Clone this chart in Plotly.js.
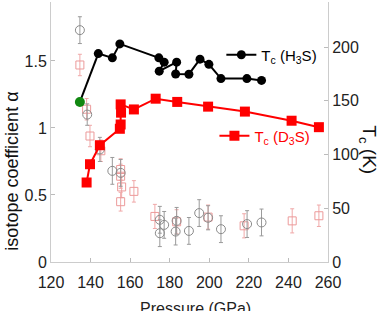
<!DOCTYPE html>
<html><head><meta charset="utf-8">
<script src="https://cdn.plot.ly/plotly-3.0.1.min.js"></script>
<style>body{margin:0;background:#fff}#c{width:382px;height:311px}</style>
</head><body><div id="c"></div>
<script>
// Tc of H3S (right axis, K)
const h3sP  = [143.9,151.0,154.8,174.5,177.2,174.7,183.5,183.0,189.7,195.3,199.8,205.9,219.0,226.4];
const h3sTc = [194,190,203,190,186,177.6,186,175,174.8,188.8,184,170.7,170.7,169];
// first point (green)
const greenP = [134.6], greenTc = [149];
// Tc of D3S (right axis, K)
const d3sP  = [138.0,139.7,144.7,154.8,155.2,155.4,155.2,161.9,172.9,183.8,199.4,218.0,241.6,255.4];
const d3sTc = [74,91,108.7,124,128,139,146.7,142,152,149,144.6,140,131.5,125.5];
// isotope coefficient alpha (grey circles, left axis)
const aCircP = [134.6,138.3,144.7,151.0,155.2,175.0,175.0,177.2,183.5,183.0,189.7,194.9,199.4,205.9,219.1,226.4];
const aCirc  = [1.73,1.10,0.84,0.68,0.665,0.315,0.215,0.277,0.307,0.227,0.232,0.365,0.33,0.245,0.283,0.295];
const aCircE = [0.10,0.08,0.09,0.10,0.10,0.10,0.10,0.10,0.10,0.10,0.10,0.10,0.09,0.10,0.10,0.10];
// isotope coefficient alpha (pink squares, left axis)
const aSqP = [134.6,138.0,139.7,145.2,155.2,155.2,155.7,155.2,161.9,172.5,183.5,199.4,217.6,241.9,255.4];
const aSq  = [1.47,1.14,0.94,0.83,0.69,0.64,0.56,0.45,0.527,0.34,0.30,0.335,0.27,0.307,0.345];
const aSqE = [0.08,0.08,0.08,0.08,0.08,0.09,0.08,0.07,0.08,0.09,0.09,0.09,0.09,0.09,0.08];
const xTicks = [120,140,160,180,200,220,240,260];
const yTicks = [0,0.5,1,1.5];
const yTickText = ['0','0.5','1','1.5'];
const y2Ticks = [0,50,100,150,200];

const font = 'Liberation Sans, Arial, sans-serif';
const traces = [
  {x:aSqP, y:aSq, type:'scatter', mode:'markers', yaxis:'y', showlegend:false,
   marker:{symbol:'square-open', size:8, color:'#ec9a9a', line:{width:1}},
   error_y:{type:'data', array:aSqE, color:'#f0a8a8', thickness:1, width:2}},
  {x:aCircP, y:aCirc, type:'scatter', mode:'markers', yaxis:'y', showlegend:false,
   marker:{symbol:'circle-open', size:9, color:'#8a8a8a', line:{width:1}},
   error_y:{type:'data', array:aCircE, color:'#9a9a9a', thickness:1, width:2}},
  {x:[greenP[0], h3sP[0]], y:[greenTc[0], h3sTc[0]], type:'scatter', mode:'lines',
   yaxis:'y2', showlegend:false, line:{color:'#000', width:2}},
  {x:h3sP, y:h3sTc, type:'scatter', mode:'lines+markers', yaxis:'y2', name:'T<sub>c</sub> (H<sub>3</sub>S)',
   line:{color:'#000', width:2}, marker:{symbol:'circle', size:9, color:'#000'}, legend:'legend'},
  {x:greenP, y:greenTc, type:'scatter', mode:'markers', yaxis:'y2', showlegend:false,
   marker:{symbol:'circle', size:10, color:'#118811'}},
  {x:d3sP, y:d3sTc, type:'scatter', mode:'lines+markers', yaxis:'y2', name:'T<sub>c</sub> (D<sub>3</sub>S)',
   line:{color:'#ff0000', width:2}, marker:{symbol:'square', size:10, color:'#ff0000'}, legend:'legend2'}
];
const layout = {
  width:382, height:311, margin:{l:51, r:54, t:2, b:49},
  paper_bgcolor:'#fff', plot_bgcolor:'#fff',
  font:{family:font, size:16, color:'#222'},
  xaxis:{range:[120,260], tickvals:xTicks, ticks:'inside', ticklen:4, tickcolor:'#bbb',
         showline:true, linecolor:'#ccc', showgrid:false, zeroline:false, ticklabelstandoff:6,
         tickfont:{size:16, color:'#222'}},
  yaxis:{range:[0,1.94], tickvals:yTicks, ticktext:yTickText, ticks:'inside', ticklen:4,
         tickcolor:'#bbb', showline:true, linecolor:'#ccc', showgrid:false, zeroline:false,
         tickfont:{size:16, color:'#222'}},
  yaxis2:{range:[0,242], overlaying:'y', side:'right', tickvals:y2Ticks, ticks:'inside', ticklen:4,
          tickcolor:'#bbb', showline:true, linecolor:'#ccc', showgrid:false, zeroline:false,
          tickfont:{size:16, color:'#222'}},
  legend:{x:0.615, y:0.796, xanchor:'left', yanchor:'middle', bgcolor:'rgba(0,0,0,0)',
          font:{size:15, color:'#000'}, itemwidth:30},
  legend2:{x:0.59, y:0.485, xanchor:'left', yanchor:'middle', bgcolor:'rgba(0,0,0,0)',
           font:{size:15, color:'#ff0000'}, itemwidth:30},
  annotations:[
    {text:'Pressure (GPa)', xref:'paper', yref:'paper', x:0.523, y:-0.138, yanchor:'top', showarrow:false,
     font:{size:16, color:'#222'}},
    {text:'isotope coefficient α', xref:'paper', x:-0.144, xanchor:'center', yref:'paper', y:0.348,
     showarrow:false, textangle:-90, font:{size:18, color:'#111'}},
    {text:'T<sub>c</sub> (K)', xref:'paper', x:1.144, xanchor:'center', yref:'paper', y:0.43,
     showarrow:false, textangle:90, font:{size:19, color:'#111'}}
  ]
};
Plotly.newPlot('c', traces, layout, {displayModeBar:false, staticPlot:true});
</script></body></html>
